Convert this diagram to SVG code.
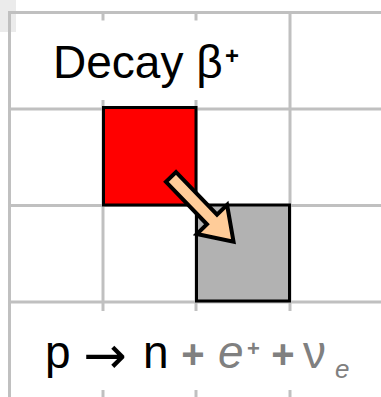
<svg xmlns="http://www.w3.org/2000/svg" width="381" height="397" viewBox="0 0 381 397">
  <style>
    .grid { stroke: #c0c0c0; stroke-width: 3; fill: none; }
    .t { font-family: "Comic Sans MS", "Liberation Sans", "DejaVu Sans", sans-serif; }
    .blk { fill: #000000; }
    .gry { fill: #808080; }
    .box { stroke: #000000; stroke-width: 3; }
  </style>
  <rect x="0" y="0" width="381" height="397" fill="#ffffff"/>
  <rect x="0" y="0" width="16" height="32" fill="#ebebeb"/>
  <g id="grid" class="grid">
    <line x1="9.5" y1="11" x2="9.5" y2="397"/>
    <line x1="8" y1="12.5" x2="381" y2="12.5"/>
    <line x1="8" y1="109" x2="381" y2="109"/>
    <line x1="8" y1="205.5" x2="381" y2="205.5"/>
    <line x1="8" y1="302" x2="381" y2="302"/>
    <line x1="290" y1="11" x2="290" y2="302"/>
    <line x1="103" y1="109" x2="103" y2="302"/>
    <line x1="196" y1="109" x2="196" y2="302"/>
    <line x1="103" y1="12.5" x2="103" y2="20.5"/>
    <line x1="196" y1="12.5" x2="196" y2="20.5"/>
    <line x1="103" y1="100" x2="103" y2="109"/>
    <line x1="196" y1="100" x2="196" y2="109"/>
    <line x1="103" y1="302" x2="103" y2="311"/>
    <line x1="196" y1="302" x2="196" y2="311"/>
    <line x1="290" y1="302" x2="290" y2="311"/>
    <line x1="103" y1="390" x2="103" y2="397"/>
    <line x1="196" y1="390" x2="196" y2="397"/>
    <line x1="290" y1="390" x2="290" y2="397"/>
  </g>
  <g id="title">
    <text class="t blk" x="53" y="78" font-size="46">Decay β</text>
    <text class="t blk" x="225" y="63.5" font-size="24" font-weight="bold">+</text>
  </g>
  <g id="proton">
    <rect class="box" x="103.5" y="107.5" width="92.5" height="97.5" fill="#ff0000"/>
  </g>
  <g id="neutron">
    <rect class="box" x="196.5" y="205" width="93" height="96" fill="#b2b2b2"/>
  </g>
  <g id="connectors">
    <path transform="translate(171,177) rotate(46)" d="M0,-7 L59,-7 L59,-21 L90,0 L59,21 L59,7 L0,7 Z" fill="#ffcc99" stroke="#000000" stroke-width="4" stroke-linejoin="miter"/>
  </g>
  <g id="equation">
    <text class="t blk" x="45" y="368" font-size="46">p</text>
    <text x="105" y="373" font-size="52" text-anchor="middle" font-family="DejaVu Sans, sans-serif" fill="#000000">→</text>
    <text class="t blk" x="143" y="368" font-size="46">n</text>
    <text class="t gry" x="193" y="368" font-size="40" font-weight="bold" text-anchor="middle">+</text>
    <text class="t gry" x="218" y="368" font-size="46" font-style="italic">e</text>
    <text class="t gry" x="247" y="356" font-size="22" font-weight="bold">+</text>
    <text class="t gry" x="283" y="368" font-size="40" font-weight="bold" text-anchor="middle">+</text>
    <text class="t gry" x="303" y="368" font-size="46">ν</text>
    <text class="t gry" x="335" y="378" font-size="26" font-style="italic">e</text>
  </g>
</svg>
